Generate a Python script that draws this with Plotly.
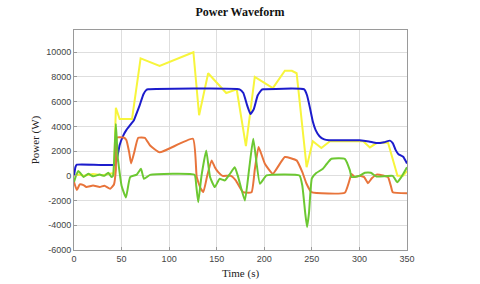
import plotly.graph_objects as go

# ---- data ----
blue_t = [0, 1.5, 3, 43, 45, 48, 52, 55, 60, 63, 66, 69, 73, 76, 78, 174, 178, 182, 185.5, 189, 193, 197, 199,
          242, 245, 248, 251, 254, 258, 263, 268, 300, 310, 318, 326, 332, 335, 338, 341, 346, 350]
blue_v = [0, 700, 900, 900, 1300, 2500, 3300, 3700, 4200, 4500, 5100, 5700, 6600, 6950, 7000, 7000, 6700, 5700, 5000,
          5400, 6500, 6950, 7000, 7000, 6500, 5500, 4400, 3700, 3200, 2950, 2880, 2880, 2780, 2650, 2720, 2850, 2650,
          2100, 1750, 1550, 1000]

yellow_t = [0, 5, 10, 20, 30, 40, 42, 44, 48, 61, 70, 90, 125.5, 131.5, 141, 160, 171, 180.7, 190, 209, 221.6, 229,
            234, 244.5, 251, 260, 269, 304, 311, 318, 330, 340, 346, 350]
yellow_v = [0, 100, 0, 150, 50, 200, 100, 5500, 4600, 4600, 9500, 8900, 10000, 4900, 8300, 6700, 7000, 2400, 8000,
            7100, 8500, 8500, 8300, 700, 2800, 2250, 2800, 2800, 2300, 2650, 2700, 0, 0, 400]

orange_t = [0, 3, 6, 10, 13, 20, 27, 32, 38, 42, 44, 45, 52, 55, 58, 60, 63, 67.5, 74.5, 80, 90, 125, 129, 133, 136,
            140, 144.6, 148, 151.6, 156, 165, 170, 177.6, 186.6, 190, 194, 200.6, 209, 221.6, 234, 240, 244.4, 249.6,
            284.6, 289, 291.7, 295, 300, 305, 309, 313, 318, 326, 330, 333, 335, 350]
orange_v = [-500, -1150, -700, -750, -900, -780, -900, -800, -1050, -700, 500, 3100, 3100, 2900, 1900, 1000, 1800,
            3080, 3080, 2450, 1900, 3000, -100, -1000, -1300, 0, 1250, 700, 300, 0, 0, -370, -1320, -1320, 500, 2330,
            980, 170, 1520, 1250, 300, -640, -1320, -1370, -500, 150, -100, 0, -100, -590, -200, 100, 0, -100, -800,
            -1320, -1400]

green_t = [0, 2, 4.5, 8, 10, 15, 20, 27, 32, 36, 39.5, 41, 44, 46, 50, 54.6, 59, 66, 70.4, 73.5, 80, 126.7, 128.5,
           130.6, 134, 139, 143, 148, 153, 158.6, 164, 169, 172.6, 179.6, 184, 188.4, 195.4, 202.4, 237, 240, 243,
           245, 247, 250, 254.6, 261.6, 266, 270.6, 284.6, 290, 291.7, 300, 305.7, 312, 318, 335, 339.6, 344, 350]
green_v = [-500, 0, 400, 100, -100, 170, -30, 100, 0, 250, -100, 0, 4200, 1500, -800, -1750, -100, 100, 570, -240,
           80, 80, -800, -2130, 0, 2060, -100, -910, -240, -370, 170, 700, -100, -2000, 500, 3000, -640, 30, 30,
           -800, -3000, -4150, -3000, -200, 220, 570, 1000, 1380, 1380, 440, -100, 0, 250, 250, -60, 0, -510, -100,
           700]

x_ticks = [0, 50, 100, 150, 200, 250, 300, 350]
y_ticks = [-6000, -4000, -2000, 0, 2000, 4000, 6000, 8000, 10000]
y_tick_labels = ["-6000", "-4000", "-2000", "0", "2000", "4000", "6000", "8000", "10000"]

fig = go.Figure()
series = [
    (yellow_t, yellow_v, "#f7f53c", "linear"),
    (blue_t, blue_v, "#1c1ccc", "spline"),
    (orange_t, orange_v, "#e8743b", "spline"),
    (green_t, green_v, "#6cc832", "spline"),
]
for t, v, c, shp in series:
    line = dict(color=c, width=2, shape=shp)
    if shp == "spline":
        line["smoothing"] = 0.4
    fig.add_trace(go.Scatter(x=t, y=v, mode="lines", line=line, showlegend=False, hoverinfo="skip"))

axis_common = dict(showgrid=True, gridcolor="#dedede", gridwidth=1, showline=True, linecolor="#9a9a9a",
                   linewidth=1, mirror=True, ticks="inside", ticklen=3, tickcolor="#9a9a9a",
                   zeroline=False, automargin=False,
                   tickfont=dict(family="Liberation Sans, Arial", size=9, color="#444444"))

fig.update_layout(
    width=480, height=284,
    margin=dict(l=74, r=73, t=30, b=34),
    paper_bgcolor="white", plot_bgcolor="white",
    title=dict(text="<b>Power Waveform</b>", x=0.5, xanchor="center", y=1 - 12 / 284, yanchor="middle",
               font=dict(family="Liberation Serif, Times New Roman", size=12, color="#111111")),
    xaxis=dict(range=[0, 350], tickvals=x_ticks,
               title=dict(text="Time (s)", standoff=6,
                          font=dict(family="Liberation Serif, Times New Roman", size=11, color="#222222")),
               **axis_common),
    yaxis=dict(range=[-6000, 11800], tickvals=y_ticks, ticktext=y_tick_labels,
               title=dict(text="Power (W)", standoff=4,
                          font=dict(family="Liberation Serif, Times New Roman", size=11, color="#222222")),
               **axis_common),
)

fig.write_html("out.html", config={"displayModeBar": False},
               post_script="document.body.style.margin='0';document.body.style.overflow='hidden';")
